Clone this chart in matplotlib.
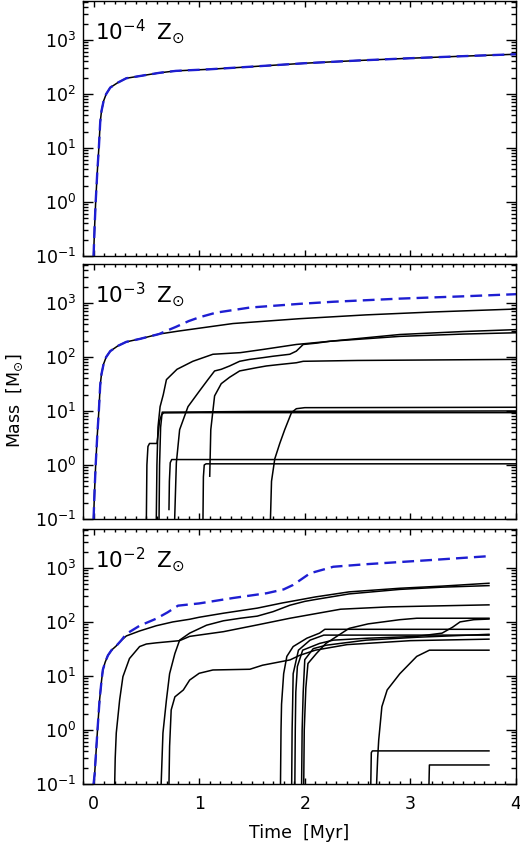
import matplotlib
matplotlib.use("Agg")
import matplotlib.pyplot as plt
from matplotlib.ticker import LogLocator, MultipleLocator, LogFormatterMathtext, NullFormatter, FixedLocator

plt.rcParams['font.family'] = ['DejaVu Sans']
plt.rcParams['mathtext.fontset'] = 'dejavusans'

# ---------------- data ----------------
panel_labels = [r'$10^{-4}\;\;\mathrm{Z}_{\odot}$', r'$10^{-3}\;\;\mathrm{Z}_{\odot}$', r'$10^{-2}\;\;\mathrm{Z}_{\odot}$']
x_ticks = [0, 1, 2, 3, 4]
x_label = 'Time  [Myr]'
y_label = r'Mass  [M$_{\odot}$]'

# panel 1 (10^-4 Zsun): single sink, total equals it
p1_t = [0.0, 0.01, 0.02, 0.035, 0.05, 0.063, 0.075, 0.095, 0.12, 0.158, 0.23, 0.31, 0.436, 0.625, 0.78, 1.1, 1.5, 2.0, 2.5, 3.0, 3.5, 4.0]
p1_m = [0.1, 0.35, 1.0, 3.5, 10, 30, 48, 74, 100, 131, 162, 195, 214, 246, 267, 286, 320, 370, 415, 458, 500, 543]
p1_tot_t = p1_t
p1_tot_m = p1_m

# panel 2 (10^-3 Zsun)
p2_main_t = [0.0, 0.01, 0.02, 0.035, 0.05, 0.063, 0.075, 0.095, 0.12, 0.158, 0.23, 0.31, 0.436, 0.62, 0.8, 1.0, 1.32, 1.95, 2.58, 3.22, 4.0]
p2_main_m = [0.1, 0.35, 1.0, 3.5, 10, 30, 48, 74, 100, 128, 160, 190, 215, 265, 300, 340, 415, 510, 600, 680, 770]
p2_tot_t = [0.0, 0.01, 0.02, 0.035, 0.05, 0.063, 0.075, 0.095, 0.12, 0.158, 0.23, 0.31, 0.436, 0.62, 0.7, 0.78, 0.9, 1.0, 1.16, 1.48, 1.95, 2.27, 2.9, 3.53, 4.0]
p2_tot_m = [0.1, 0.35, 1.0, 3.5, 10, 30, 48, 74, 100, 128, 160, 190, 215, 265, 310, 360, 460, 540, 660, 820, 960, 1050, 1200, 1330, 1450]
p2_c1_t = [0.5, 0.505, 0.515, 0.53, 0.6, 0.61, 0.625, 0.645, 0.665, 1.0, 2.5, 4.0]
p2_c1_m = [0.1, 1.0, 2.2, 2.5, 2.5, 3.5, 6.5, 8.6, 9.2, 9.3, 9.3, 9.3]
p2_c2_t = [0.594, 0.6, 0.61, 0.63, 0.66, 0.69, 0.79, 0.94, 1.13, 1.39, 1.61, 1.92, 2.24, 2.9, 3.5, 4.0]
p2_c2_m = [0.1, 1.0, 5, 12, 20, 38, 59, 83, 112, 120, 138, 170, 195, 260, 295, 320]
p2_c3_t = [0.768, 0.784, 0.815, 0.894, 1.004, 1.083, 1.146, 1.209, 1.288, 1.383, 1.478, 1.605, 1.7, 1.858, 1.92, 1.985, 2.11, 2.24, 2.9, 3.5, 4.0]
p2_c3_m = [0.1, 1.1, 4.5, 12, 23.6, 38, 55, 59, 68, 83, 90, 97, 103, 112, 128, 170, 180, 195, 240, 265, 280]
p2_c4_t = [1.1, 1.11, 1.146, 1.209, 1.288, 1.383, 1.54, 1.636, 1.75, 1.92, 1.985, 2.5, 4.0]
p2_c4_m = [0.62, 4.5, 19, 32, 42, 55, 63, 68, 72, 78, 83, 86, 90]
p2_c5_t = [0.62, 0.625, 0.635, 0.65, 1.0, 1.5, 4.0]
p2_c5_m = [0.1, 1.0, 5, 9.5, 9.6, 9.8, 10.0]
p2_c6_t = [0.714, 0.718, 0.726, 0.74, 4.0]
p2_c6_m = [0.15, 0.5, 1.1, 1.26, 1.26]
p2_c7_t = [1.036, 1.04, 1.048, 1.065, 4.0]
p2_c7_m = [0.1, 0.6, 1.0, 1.05, 1.05]
p2_c8_t = [1.675, 1.685, 1.716, 1.763, 1.81, 1.874, 1.92, 2.0, 4.0]
p2_c8_m = [0.1, 0.5, 1.3, 2.5, 4.5, 9.3, 11, 11.5, 11.7]

# panel 3 (10^-2 Zsun)
p3_d1_t = [0.0, 0.01, 0.025, 0.04, 0.057, 0.075, 0.088, 0.11, 0.136, 0.17, 0.215, 0.26, 0.31, 0.436, 0.594, 0.75, 0.91, 1.0, 1.23, 1.55, 1.79, 1.86, 2.1, 2.42, 2.9, 3.3, 3.744]
p3_d1_m = [0.1, 0.15, 0.43, 1.2, 3.6, 8, 13, 18, 24, 30, 36, 45, 55, 68, 85, 100, 112, 122, 145, 180, 225, 238, 290, 360, 420, 460, 520]
p3_tot_t = [0.0, 0.01, 0.025, 0.04, 0.057, 0.075, 0.088, 0.11, 0.136, 0.17, 0.215, 0.26, 0.31, 0.436, 0.594, 0.7, 0.8, 0.9, 1.0, 1.32, 1.64, 1.8, 1.89, 2.05, 2.27, 2.58, 3.2, 3.744]
p3_tot_m = [0.1, 0.15, 0.43, 1.2, 3.6, 8, 13, 18, 24, 30, 36, 45, 60, 85, 115, 150, 200, 210, 220, 277, 340, 400, 484, 795, 1050, 1170, 1400, 1650]
p3_d2_t = [0.64, 0.657, 0.69, 0.72, 0.77, 0.815, 0.91, 1.07, 1.23, 1.39, 1.55, 1.7, 1.86, 2.0, 2.1, 2.42, 2.9, 3.3, 3.744]
p3_d2_m = [0.1, 0.88, 3.6, 11, 26, 46, 62, 87, 105, 117, 128, 155, 204, 240, 260, 330, 400, 440, 470]
p3_d3_t = [0.20, 0.205, 0.215, 0.247, 0.278, 0.34, 0.436, 0.5, 0.594, 0.815, 0.91, 1.23, 1.55, 1.86, 2.34, 2.8, 3.744]
p3_d3_m = [0.1, 0.3, 0.88, 3.6, 9.7, 21, 35, 39, 41, 45, 54, 66, 88, 117, 172, 190, 207]
p3_d4_t = [0.714, 0.72, 0.735, 0.77, 0.85, 0.91, 1.0, 1.13, 1.48, 1.6, 1.86, 1.95, 2.1, 2.4, 3.0, 3.744]
p3_d4_m = [0.1, 0.5, 2.35, 4.1, 5.5, 8.4, 11.2, 12.9, 13.3, 15.8, 19.8, 24, 30, 38, 45, 48]
p3_e1_t = [1.77, 1.775, 1.78, 1.8, 1.83, 1.89, 2.02, 2.14, 2.19, 3.744]
p3_e1_m = [0.1, 1.0, 3.0, 11, 23, 35, 50, 62, 73, 73]
p3_e2_t = [1.876, 1.88, 1.885, 1.89, 1.94, 2.05, 2.18, 3.744]
p3_e2_m = [0.1, 1.0, 3.0, 11, 30, 46, 57, 57]
p3_e3_t = [1.906, 1.91, 1.915, 1.93, 1.98, 2.14, 2.27, 2.6, 3.06, 3.3, 3.4, 3.47, 3.6, 3.744]
p3_e3_m = [0.1, 1.0, 5, 15, 30, 40, 46, 50, 54, 62, 80, 100, 110, 113]
p3_e4_t = [1.97, 1.975, 1.985, 2.0, 2.08, 2.2, 2.58, 3.06, 3.744]
p3_e4_m = [0.1, 1.0, 5, 20, 32, 37, 46, 52, 59]
p3_e5_t = [1.99, 1.995, 2.01, 2.03, 2.11, 2.2, 2.42, 2.6, 2.74, 2.9, 3.06, 3.744]
p3_e5_m = [0.1, 1.0, 6, 17, 26, 40, 76, 92, 100, 110, 117, 117]
p3_f1_t = [2.68, 2.69, 2.70, 2.73, 2.78, 2.9, 3.06, 3.18, 3.744]
p3_f1_m = [0.1, 0.3, 0.65, 2.7, 5.5, 11, 23, 30, 30]
p3_g1_t = [2.625, 2.63, 2.64, 3.744]
p3_g1_m = [0.1, 0.38, 0.41, 0.41]
p3_g2_t = [3.176, 3.18, 3.744]
p3_g2_m = [0.1, 0.225, 0.225]

panels = [
    dict(total=(p1_tot_t, p1_tot_m), sinks=[(p1_t, p1_m)]),
    dict(total=(p2_tot_t, p2_tot_m), sinks=[(p2_main_t, p2_main_m), (p2_c1_t, p2_c1_m), (p2_c2_t, p2_c2_m),
                                          (p2_c3_t, p2_c3_m), (p2_c4_t, p2_c4_m), (p2_c5_t, p2_c5_m),
                                          (p2_c6_t, p2_c6_m), (p2_c7_t, p2_c7_m), (p2_c8_t, p2_c8_m)]),
    dict(total=(p3_tot_t, p3_tot_m), sinks=[(p3_d1_t, p3_d1_m), (p3_d2_t, p3_d2_m), (p3_d3_t, p3_d3_m),
                                          (p3_d4_t, p3_d4_m), (p3_e1_t, p3_e1_m), (p3_e2_t, p3_e2_m),
                                          (p3_e3_t, p3_e3_m), (p3_e4_t, p3_e4_m), (p3_e5_t, p3_e5_m),
                                          (p3_f1_t, p3_f1_m), (p3_g1_t, p3_g1_m), (p3_g2_t, p3_g2_m)]),
]

# ---------------- figure ----------------
W, H = 520, 844
fig = plt.figure(figsize=(W / 100, H / 100), dpi=100)
left = 83 / W
width = 433 / W
height = 255 / H
bottoms = [(H - 256) / H, (H - 519) / H, (H - 784) / H]

blue = '#1e1ed2'
for i, pan in enumerate(panels):
    ax = fig.add_axes([left, bottoms[i], width, height])
    for t, m in pan['sinks']:
        ax.plot(t, m, color='black', lw=1.1, solid_joinstyle='round')
    tt, tm = pan['total']
    ax.plot(tt, tm, color=blue, lw=1.7, dashes=(5.0, 2.6))
    ax.set_yscale('log')
    ax.set_xlim(-0.1, 4.0)
    ax.set_ylim(0.1, 10 ** 3.72)
    ax.yaxis.set_major_locator(FixedLocator([0.1, 1, 10, 100, 1000]))
    ax.yaxis.set_major_formatter(LogFormatterMathtext())
    ax.yaxis.set_minor_locator(LogLocator(base=10, subs=range(2, 10), numticks=20))
    ax.yaxis.set_minor_formatter(NullFormatter())
    ax.xaxis.set_major_locator(FixedLocator(x_ticks))
    ax.xaxis.set_minor_locator(MultipleLocator(0.1))
    ax.tick_params(axis='both', which='both', direction='in', top=True, right=True, width=1.0)
    ax.tick_params(axis='y', which='major', length=7, labelsize=12.5, pad=5)
    ax.tick_params(axis='y', which='minor', length=3.5)
    ax.tick_params(axis='x', which='major', length=4.2, labelsize=12.5, pad=8)
    ax.tick_params(axis='x', which='minor', length=2.2)
    for s in ax.spines.values():
        s.set_linewidth(1.0)
    if i < 2:
        ax.tick_params(axis='x', labelbottom=False)
    ax.text(0.027, 0.85, panel_labels[i], transform=ax.transAxes, fontsize=15.5,
            ha='left', va='baseline')

fig.text(15 / W, 1 - 401 / H, y_label, rotation=90, ha='center', va='center', fontsize=12.5)
fig.text(299.5 / W, 1 - 833 / H, x_label, ha='center', va='center', fontsize=12.5)

fig.savefig('out.png', dpi=100)
